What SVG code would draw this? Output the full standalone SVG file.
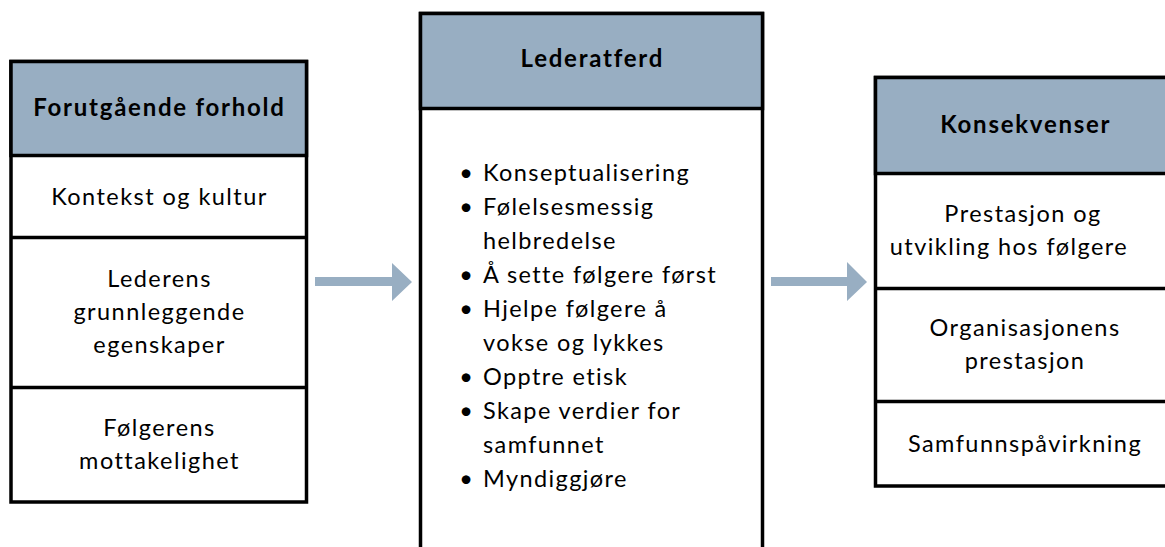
<svg xmlns="http://www.w3.org/2000/svg" width="1165" height="547" viewBox="0 0 1165 547">
<style>
.box{fill:#ffffff;stroke:#000000;stroke-width:3.5}
.hdr{fill:#98aec2;stroke:#000000;stroke-width:3.5}
.sep{stroke:#000000;stroke-width:3.5}
.h{font-family:Lato,"Liberation Sans",sans-serif;font-weight:bold;font-size:24px;letter-spacing:1.75px;fill:#000000;text-anchor:middle}
.t{font-family:Lato,"Liberation Sans",sans-serif;font-size:23.5px;letter-spacing:1.45px;fill:#000000;text-anchor:middle}
.b{font-family:Lato,"Liberation Sans",sans-serif;font-size:23.5px;letter-spacing:1.4px;fill:#000000}
.arrow{fill:#98aec2}
</style>
<rect width="1165" height="547" fill="#ffffff"/>
<g id="connectors">
<polygon class="arrow" points="315,277 392,277 392,263 412,282 392,301 392,286 315,286"/>
<polygon class="arrow" points="771,277 847,277 847,262 867,282 847,301 847,286 771,286"/>
</g>
<g id="node-forutgaende">
<rect class="box" x="11" y="61.5" width="295.5" height="440.5"/>
<rect class="hdr" x="11" y="61.5" width="295.5" height="94"/>
<line class="sep" x1="11" y1="237.5" x2="306.5" y2="237.5"/>
<line class="sep" x1="11" y1="387.5" x2="306.5" y2="387.5"/>
<text class="h" x="159.5" y="115.5">Forutgående forhold</text>
<text class="t" x="159.5" y="204.5">Kontekst og kultur</text>
<text class="t" x="159.5" y="287">Lederens</text>
<text class="t" x="159.5" y="320">grunnleggende</text>
<text class="t" x="159.5" y="353">egenskaper</text>
<text class="t" x="159.5" y="436">Følgerens</text>
<text class="t" x="159.5" y="469">mottakelighet</text>
</g>
<g id="node-lederatferd">
<rect class="box" x="420.5" y="13.5" width="342" height="545"/>
<rect class="hdr" x="420.5" y="13.5" width="342" height="95"/>
<text class="h" x="592.3" y="67">Lederatferd</text>
<g class="b">
<text x="466" y="181" text-anchor="middle" letter-spacing="0">•</text><text x="483" y="181">Konseptualisering</text>
<text x="466" y="215" text-anchor="middle" letter-spacing="0">•</text><text x="483" y="215">Følelsesmessig</text>
<text x="483" y="249">helbredelse</text>
<text x="466" y="283" text-anchor="middle" letter-spacing="0">•</text><text x="483" y="283">Å sette følgere først</text>
<text x="466" y="317" text-anchor="middle" letter-spacing="0">•</text><text x="483" y="317">Hjelpe følgere å</text>
<text x="483" y="351">vokse og lykkes</text>
<text x="466" y="385" text-anchor="middle" letter-spacing="0">•</text><text x="483" y="385">Opptre etisk</text>
<text x="466" y="419" text-anchor="middle" letter-spacing="0">•</text><text x="483" y="419">Skape verdier for</text>
<text x="483" y="453">samfunnet</text>
<text x="466" y="487" text-anchor="middle" letter-spacing="0">•</text><text x="483" y="487">Myndiggjøre</text>
</g>
</g>
<g id="node-konsekvenser">
<rect class="box" x="875.5" y="77.5" width="300" height="408.5"/>
<rect class="hdr" x="875.5" y="77.5" width="300" height="96"/>
<line class="sep" x1="875.5" y1="288.5" x2="1175.5" y2="288.5"/>
<line class="sep" x1="875.5" y1="401.5" x2="1175.5" y2="401.5"/>
<text class="h" x="1025.8" y="133">Konsekvenser</text>
<text class="t" x="1023" y="222">Prestasjon og</text>
<text class="t" x="1009" y="255">utvikling hos følgere</text>
<text class="t" x="1025" y="336">Organisasjonens</text>
<text class="t" x="1025" y="369">prestasjon</text>
<text class="t" x="1025" y="451.5">Samfunnspåvirkning</text>
</g>
</svg>
